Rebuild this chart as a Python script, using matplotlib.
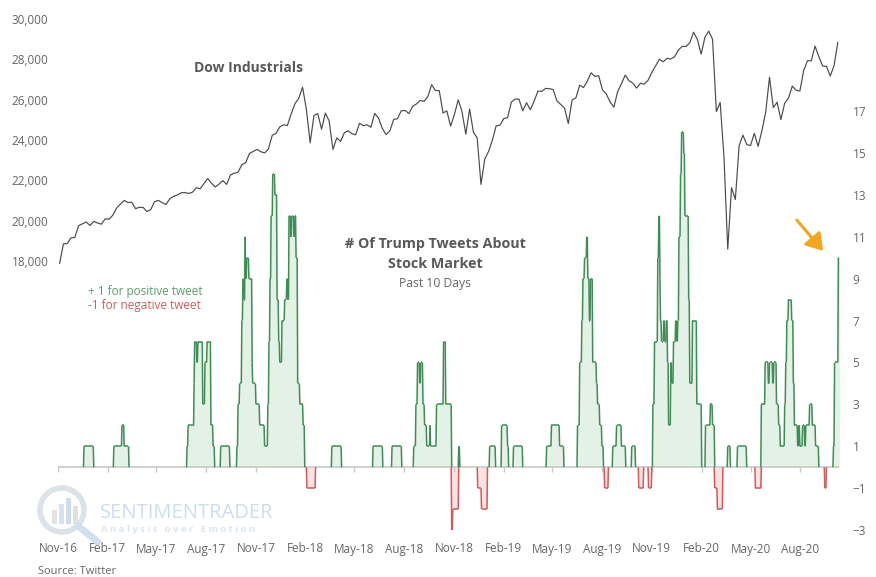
import matplotlib
matplotlib.use('Agg')
import numpy as np
import pandas as pd
import matplotlib.pyplot as plt
import matplotlib.dates as mdates
from matplotlib.ticker import StrMethodFormatter
from matplotlib.collections import LineCollection
from matplotlib.patches import Circle, Rectangle

plt.rcParams['font.family'] = ['Open Sans', 'DejaVu Sans']

# Dow Industrials, weekly closes (Fridays) from Nov-2016
dow_start = '2016-11-04'
dow_close = [
    # 2016
    17888, 18847, 18867, 19152, 19170, 19757, 19843, 19934, 19763,
    # 2017
    19964, 19886, 19827, 20094, 20071, 20269, 20624, 20822,
    21006, 20903, 20915, 20597, 20663, 20656, 20453, 20548, 20941,
    21007, 20897, 20805, 21080, 21206, 21272, 21384, 21395, 21350,
    21414, 21638, 21580, 21830, 22093, 21858, 21675, 21814,
    21988, 21798, 22268, 22350, 22405, 22774, 22872, 23329, 23434,
    23539, 23422, 23358, 23558, 24231, 24330, 24652, 24754, 24719,
    # 2018
    25296, 25803, 26072, 26617, 25521, 23860, 25219, 25310,
    24538, 25336, 24947, 23533, 24103, 23933, 24360, 24463, 24311,
    24263, 24831, 24715, 24753, 24635, 25317, 25090, 24581, 24271,
    24456, 25019, 25058, 25451, 25463, 25313, 25669, 25790, 25965,
    25917, 26155, 26744, 26458, 26447, 25340, 25444, 24688,
    25271, 25989, 25413, 24286, 25538, 24389, 24101, 21800, 23062,
    # 2019
    23433, 23996, 24706, 24737, 25064, 25106, 25883, 26031,
    26026, 25450, 25849, 25502, 25929, 26425, 26412, 26559, 26543,
    26505, 25942, 25764, 25586, 24815, 25984, 26090, 26719, 26600,
    26922, 27332, 27154, 27192, 26485, 26287, 25886, 25629, 26403,
    26797, 27220, 26935, 26820, 26573, 26817, 26770, 26958,
    27347, 27681, 28005, 27876, 28051, 28015, 28135, 28455, 28645,
    # 2020
    28634, 28824, 29348, 28990, 28256, 29103, 29398, 28992, 25409,
    25865, 23186, 18591, 21637, 21053, 23719, 24242, 23775,
    23724, 24331, 23685, 24465, 25383, 27111, 25606, 25871, 25016,
    25827, 26075, 26672, 26470, 26428, 27433, 27931, 27930, 28654,
    28133, 27666, 27657, 27174, 27683, 28840,
]

# Trump tweets about the stock market, past 10 days (value holds until next date)
tweet_dates = [
    '2016-11-01', '2016-12-19', '2017-01-06', '2017-02-12', '2017-02-27', '2017-03-03', '2017-03-12',
    '2017-06-27', '2017-06-29', '2017-07-10', '2017-07-11', '2017-07-15', '2017-07-17', '2017-07-26',
    '2017-07-30', '2017-08-03', '2017-08-10', '2017-08-14', '2017-08-17', '2017-08-28', '2017-09-14',
    '2017-09-27', '2017-09-29', '2017-10-02', '2017-10-06', '2017-10-08', '2017-10-10', '2017-10-12',
    '2017-10-13', '2017-10-15', '2017-10-19', '2017-10-25', '2017-10-26', '2017-11-01', '2017-11-08',
    '2017-11-17', '2017-11-23', '2017-11-25', '2017-11-27', '2017-11-29', '2017-12-02', '2017-12-06',
    '2017-12-10', '2017-12-13', '2017-12-15', '2017-12-19', '2017-12-24', '2017-12-28', '2017-12-30',
    '2018-01-01', '2018-01-04', '2018-01-06', '2018-01-10', '2018-01-12', '2018-01-14', '2018-01-17',
    '2018-01-21', '2018-01-27', '2018-01-30', '2018-02-03', '2018-02-19', '2018-03-21', '2018-04-08',
    '2018-06-05', '2018-06-23', '2018-07-10', '2018-07-28', '2018-08-19', '2018-08-23', '2018-08-26',
    '2018-08-30', '2018-09-01', '2018-09-05', '2018-09-08', '2018-09-12', '2018-09-18', '2018-09-19',
    '2018-09-30', '2018-10-13', '2018-10-17', '2018-10-28', '2018-10-30', '2018-11-10', '2018-11-12',
    '2018-12-15', '2018-12-22', '2019-01-02', '2019-01-06', '2019-01-17', '2019-01-28', '2019-02-08',
    '2019-02-10', '2019-02-19', '2019-03-08', '2019-04-21', '2019-04-30', '2019-05-15', '2019-05-23',
    '2019-06-17', '2019-06-21', '2019-06-25', '2019-06-27', '2019-06-30', '2019-07-04', '2019-07-06',
    '2019-07-09', '2019-07-11', '2019-07-15', '2019-07-22', '2019-07-24', '2019-07-28', '2019-08-01',
    '2019-08-04', '2019-08-06', '2019-08-13', '2019-08-21', '2019-08-28', '2019-09-06', '2019-09-14',
    '2019-09-25', '2019-10-02', '2019-10-08', '2019-10-17', '2019-10-26', '2019-11-01', '2019-11-03',
    '2019-11-06', '2019-11-12', '2019-11-14', '2019-11-16', '2019-11-17', '2019-11-19', '2019-11-23',
    '2019-11-25', '2019-11-28', '2019-11-30', '2019-12-02', '2019-12-06', '2019-12-08', '2019-12-11',
    '2019-12-15', '2019-12-17', '2019-12-19', '2019-12-21', '2019-12-24', '2019-12-26', '2019-12-30',
    '2020-01-01', '2020-01-08', '2020-01-10', '2020-01-15', '2020-01-23', '2020-02-01', '2020-02-08',
    '2020-02-17', '2020-02-21', '2020-02-25', '2020-03-01', '2020-03-11', '2020-03-20', '2020-03-25',
    '2020-04-07', '2020-04-24', '2020-05-10', '2020-05-21', '2020-05-28', '2020-06-03', '2020-06-05',
    '2020-06-11', '2020-06-13', '2020-06-18', '2020-06-22', '2020-06-25', '2020-07-03', '2020-07-05',
    '2020-07-07', '2020-07-10', '2020-07-16', '2020-07-19', '2020-07-21', '2020-07-27', '2020-07-29',
    '2020-07-31', '2020-08-05', '2020-08-09', '2020-08-11', '2020-08-18', '2020-08-23', '2020-08-29',
    '2020-09-04', '2020-09-15', '2020-09-18', '2020-10-01', '2020-10-03', '2020-10-10', '2020-10-12',
]
tweet_counts = [
    0, 1, 0, 1, 2, 1, 0,
    1, 2, 4, 6, 5, 6, 3,
    5, 6, 2, 1, 0, 1, 0,
    1, 3, 4, 7, 9, 8, 11,
    9, 10, 9, 5, 4, 3, 2,
    1, 3, 6, 9, 12, 14, 13,
    8, 6, 5, 7, 8, 9, 8,
    12, 11, 12, 11, 12, 10, 4,
    3, 2, 0, -1, 0, 1, 0,
    1, 0, 1, 0, 1, 3, 5,
    4, 5, 3, 2, 1, 2, 1,
    3, 6, 3, -3, -2, 1, 0,
    -1, -2, 0, 1, 0, 2, 1,
    0, 1, 0, 1, 2, 1, 0,
    2, 5, 7, 9, 10, 11, 9,
    7, 9, 5, 4, 3, 2, 1,
    0, -1, 0, 1, 2, 1, 0,
    1, 0, -1, 0, -1, 0, 3,
    6, 10, 12, 9, 7, 6, 7,
    6, 7, 5, 2, 5, 4, 6,
    7, 6, 7, 11, 14, 16, 15,
    12, 8, 4, 7, 3, 0, 2,
    3, 2, -1, -2, 0, 1, 0,
    1, 0, -1, 3, 5, 4, 5,
    4, 5, 3, 2, 1, 3, 5,
    7, 8, 7, 4, 2, 1, 2,
    1, 2, 1, 2, 3, 2, 1,
    0, -1, 0, 1, 5, 10, 10,
]

dow_dates = pd.date_range(dow_start, periods=len(dow_close), freq='W-FRI')
t_dates = pd.to_datetime(tweet_dates)
t_vals = np.array(tweet_counts, dtype=float)

GREEN = '#3f8c55'
GREEN_FILL = '#e4f1e6'
RED = '#d25a5a'
RED_FILL = '#fbe2e2'
GRAY_TXT = '#666666'


def daily_vertices(x, y):
    # the series is daily, so each change is drawn over one day (x in day numbers)
    xs, ys = [x[0]], [y[0]]
    for i in range(1, len(x)):
        xs += [x[i] - 1, x[i]]
        ys += [y[i - 1], y[i]]
    return np.array(xs), np.array(ys)


def off_baseline(xs, ys):
    # line pieces, dropping the ones that run along zero
    segs = []
    for i in range(len(xs) - 1):
        if ys[i] == 0 and ys[i + 1] == 0:
            continue
        segs.append([(xs[i], ys[i]), (xs[i + 1], ys[i + 1])])
    return segs


fig = plt.figure(figsize=(8.76, 5.77), dpi=100)
ax = fig.add_axes([58 / 876, 47 / 577, 782 / 876, 511 / 577])
ax2 = ax.twinx()

# Dow line
ax.plot(dow_dates, dow_close, color='#4a4a4a', lw=0.85)
ax.set_ylim(4665, 30000)
ax.set_yticks(range(18000, 30001, 2000))
ax.yaxis.set_major_formatter(StrMethodFormatter('{x:,.0f}'))
ax.set_xlim(pd.Timestamp('2016-11-01'), pd.Timestamp('2020-10-13'))
ax.xaxis.set_major_locator(mdates.MonthLocator(bymonth=(2, 5, 8, 11)))
ax.xaxis.set_major_formatter(mdates.DateFormatter('%b-%y'))

# tweet series
xnum = mdates.date2num(t_dates)
px, py = daily_vertices(xnum, np.maximum(t_vals, 0))
nx, ny = daily_vertices(xnum, np.minimum(t_vals, 0))
ax2.fill_between(px, py, 0, color=GREEN_FILL, lw=0, zorder=1)
ax2.fill_between(nx, ny, 0, color=RED_FILL, lw=0, zorder=1)
ax2.hlines(0, t_dates[0], t_dates[-1], color='#c9c9c9', lw=1.2, zorder=2)
ticks = ax.xaxis.get_majorticklocs()
ax2.vlines(ticks, -0.25, 0.05, color='#c9c9c9', lw=1, zorder=2)
ax2.add_collection(LineCollection(off_baseline(px, py), colors=GREEN, linewidths=1.1, zorder=3))
ax2.add_collection(LineCollection(off_baseline(nx, ny), colors=RED, linewidths=1.1, zorder=3))
ax2.set_ylim(-3, 21.4)
ax2.set_yticks(range(-3, 18, 2))

for a in (ax, ax2):
    for s in a.spines.values():
        s.set_visible(False)
ax.tick_params(axis='y', length=0, colors=GRAY_TXT, labelsize=8.5, pad=7)
ax.tick_params(axis='x', length=0, colors=GRAY_TXT, labelsize=8.5, pad=9)
ax2.tick_params(axis='y', length=0, colors=GRAY_TXT, labelsize=8.5, pad=9)

# titles and notes
fig.text(248 / 876, 1 - 68 / 577, 'Dow Industrials', ha='center', va='center',
         fontsize=10, fontweight='bold', color='#595959')
fig.text(435 / 876, 1 - 244 / 577, '# Of Trump Tweets About', ha='center', va='center',
         fontsize=10.3, fontweight='bold', color='#595959')
fig.text(435 / 876, 1 - 264 / 577, 'Stock Market', ha='center', va='center',
         fontsize=10.3, fontweight='bold', color='#595959')
fig.text(435 / 876, 1 - 283 / 577, 'Past 10 Days', ha='center', va='center',
         fontsize=8.7, color='#666666')
fig.text(88 / 876, 1 - 291 / 577, '+ 1 for positive tweet', ha='left', va='center',
         fontsize=8.5, color='#5aa06a')
fig.text(88 / 876, 1 - 306 / 577, '-1 for negative tweet', ha='left', va='center',
         fontsize=8.5, color='#d45a5a')
fig.text(38 / 876, 1 - 572 / 577, 'Source: Twitter', ha='left', va='center',
         fontsize=8, color=GRAY_TXT)

# arrow pointing at the latest reading
ax2.annotate('', xy=(825, 577 - 253), xycoords='figure pixels',
             xytext=(795, 577 - 218), textcoords='figure pixels',
             arrowprops=dict(arrowstyle='-|>,head_length=0.7,head_width=0.45',
                             color='#f2a524', lw=2.2, mutation_scale=14))

# faint watermark
fig.text(100 / 876, 1 - 513 / 577, 'SENTIMENTRADER', ha='left', va='center',
         fontsize=14.5, color='#c9d9ea', alpha=0.9)
fig.text(101 / 876, 1 - 530 / 577, 'A n a l y s i s   o v e r   E m o t i o n', ha='left', va='center',
         fontsize=6.8, fontweight='bold', color='#dbe4ee')
lax = fig.add_axes([30 / 876, 1 - 552 / 577, 75 / 876, 75 / 577])
lax.set_xlim(0, 75)
lax.set_ylim(0, 75)
lax.set_aspect('equal')
lax.axis('off')
lax.add_patch(Circle((32, 42), 22, fill=False, lw=4, ec='#dde2e8'))
for bx, bh, bc in [(22, 14, '#e3e3e3'), (29, 20, '#d6e2ee'), (36, 26, '#cfdceb'), (43, 18, '#e0e0e0')]:
    lax.add_patch(Rectangle((bx, 28), 5, bh, color=bc, lw=0))
lax.plot([48, 68], [26, 10], color='#d2e0ee', lw=5, solid_capstyle='round')

fig.savefig('out.png', dpi=100)
